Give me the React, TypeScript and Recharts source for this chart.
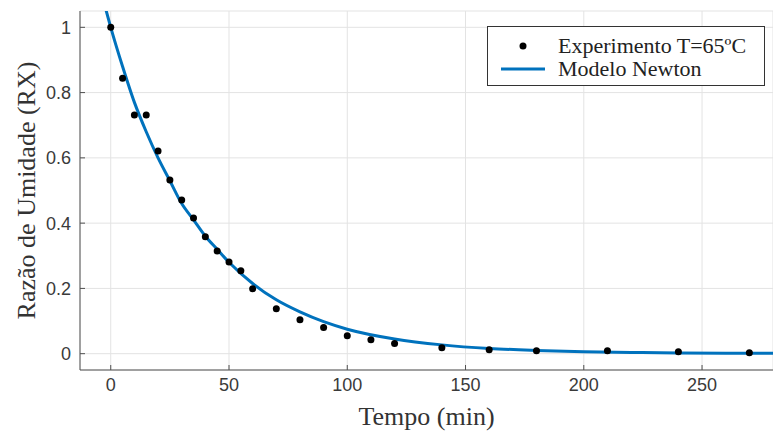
import React from "react";
import { ComposedChart, Line, Scatter, XAxis, YAxis, CartesianGrid, Legend } from "recharts";

// experimental points (tempo em min, razão de umidade)
const tExp = [0, 5, 10, 15, 20, 25, 30, 35, 40, 45, 50, 55, 60, 70, 80, 90, 100, 110, 120, 140, 160, 180, 210, 240, 270];
const rxExp = [1.0, 0.844, 0.731, 0.731, 0.621, 0.532, 0.471, 0.416, 0.358, 0.315, 0.281, 0.254, 0.199, 0.138, 0.104, 0.08, 0.055, 0.043, 0.031, 0.018, 0.012, 0.009, 0.009, 0.006, 0.003];

// Newton model curve
const tModel = [-3, 0, 5, 10, 15, 20, 25, 30, 35, 40, 45, 50, 60, 70, 80, 90, 100, 120, 140, 160, 180, 200, 220, 240, 260, 280];
const rxModel = [1.08, 1.0, 0.88, 0.77, 0.68, 0.6, 0.53, 0.46, 0.41, 0.36, 0.32, 0.28, 0.215, 0.165, 0.128, 0.098, 0.075, 0.045, 0.027, 0.016, 0.01, 0.006, 0.004, 0.002, 0.001, 0.001];

const xTicks = [0, 50, 100, 150, 200, 250];
const yTicks = [0, 0.2, 0.4, 0.6, 0.8, 1];

const expData = tExp.map((t, i) => ({ t, rx: rxExp[i] }));
const modelData = tModel.map((t, i) => ({ t, rx: rxModel[i] }));

const BLUE = "#0072BD";
const AXIS = "#505050";
const SERIF = "'Liberation Serif', 'Times New Roman', serif";
const SANS = "'Liberation Sans', Arial, sans-serif";

const Dot = (p: any) => <circle cx={p.cx} cy={p.cy} r={3.5} fill="#000" />;

const LegendBox = () => (
  <div
    style={{
      width: 278,
      height: 60,
      boxSizing: "border-box",
      border: "1.5px solid #333",
      background: "#fff",
      fontFamily: SERIF,
      fontSize: 22,
      color: "#222",
      lineHeight: "23px",
      paddingTop: 7,
    }}
  >
    <div style={{ display: "flex", alignItems: "center", height: 23 }}>
      <span style={{ width: 70, display: "inline-flex", justifyContent: "center" }}>
        <svg width={44} height={10}>
          <circle cx={22} cy={5} r={3.5} fill="#000" />
        </svg>
      </span>
      <span>Experimento T=65ºC</span>
    </div>
    <div style={{ display: "flex", alignItems: "center", height: 23 }}>
      <span style={{ width: 70, display: "inline-flex", justifyContent: "center" }}>
        <svg width={44} height={10}>
          <line x1={0} x2={44} y1={5} y2={5} stroke={BLUE} strokeWidth={3} />
        </svg>
      </span>
      <span>Modelo Newton</span>
    </div>
  </div>
);

export default function App() {
  return (
    <div style={{ position: "absolute", left: 0, top: 0, background: "#fff" }}>
      <ComposedChart width={773} height={432} margin={{ top: 11, right: 0, left: 0, bottom: 0 }}>
        <CartesianGrid stroke="#e3e3e3" strokeWidth={1} />
        <XAxis
          xAxisId="top"
          orientation="top"
          type="number"
          dataKey="t"
          domain={[-13, 280]}
          allowDataOverflow
          ticks={xTicks}
          tick={false}
          tickSize={-5}
          height={0}
          stroke={AXIS}
        />
        <XAxis
          type="number"
          dataKey="t"
          domain={[-13, 280]}
          allowDataOverflow
          ticks={xTicks}
          height={62}
          tickSize={-5}
          tickMargin={13}
          stroke={AXIS}
          tick={{ fill: "#3a3a3a", fontSize: 18, fontFamily: SANS }}
          label={{ value: "Tempo (min)", position: "center", dy: 15, fill: "#333", fontSize: 26, fontFamily: SERIF }}
        />
        <YAxis
          type="number"
          dataKey="rx"
          domain={[-0.05, 1.05]}
          allowDataOverflow
          ticks={yTicks}
          width={80}
          tickSize={-5}
          tickMargin={14}
          stroke={AXIS}
          tick={{ fill: "#3a3a3a", fontSize: 18, fontFamily: SANS }}
          label={{ value: "Razão de Umidade (RX)", angle: -90, position: "center", dx: -14, fill: "#333", fontSize: 26, fontFamily: SERIF }}
        />
        <Scatter data={expData} dataKey="rx" shape={Dot} isAnimationActive={false} />
        <Line
          data={modelData}
          dataKey="rx"
          type="monotone"
          stroke={BLUE}
          strokeWidth={3}
          dot={false}
          activeDot={false}
          isAnimationActive={false}
        />
        <Legend
          layout="horizontal"
          verticalAlign="middle"
          align="center"
          wrapperStyle={{ position: "absolute", left: 487, top: 26, width: 278 }}
          content={() => <LegendBox />}
        />
      </ComposedChart>
    </div>
  );
}
